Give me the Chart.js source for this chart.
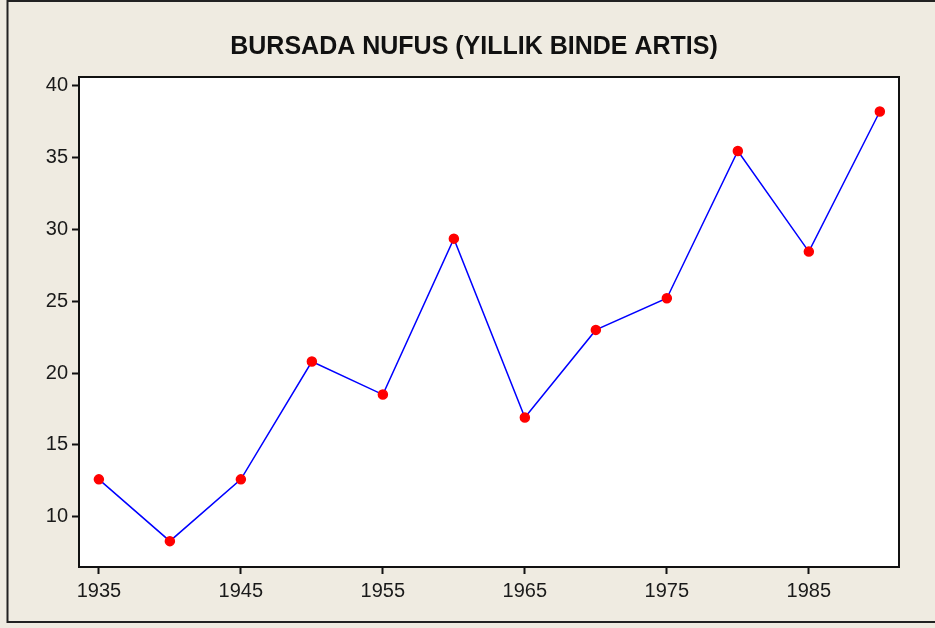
<!DOCTYPE html>
<html>
<head>
<meta charset="utf-8">
<script src="https://cdn.jsdelivr.net/npm/chart.js@4.4.1/dist/chart.umd.min.js"></script>
<style>
  html, body { margin: 0; padding: 0; background: #EFEBE1; }
  #wrap { width: 935px; height: 628px; }
</style>
</head>
<body>
<div id="wrap"><canvas id="chart"></canvas></div>
<script>
// yearly birth rate increase per thousand, Bursa
const years = [1935, 1940, 1945, 1950, 1955, 1960, 1965, 1970, 1975, 1980, 1985, 1990];
const values = [12.6, 8.3, 12.6, 20.8, 18.5, 29.35, 16.9, 23.0, 25.2, 35.45, 28.45, 38.2];
const xTicks = [1935, 1945, 1955, 1965, 1975, 1985];
const yTicks = [10, 15, 20, 25, 30, 35, 40];
const titleText = "BURSADA NUFUS (YILLIK BINDE ARTIS)";

const frame = {
    id: "frame",
    beforeDraw(chart) {
        const c = chart.ctx, a = chart.chartArea;
        c.save();
        c.fillStyle = "#EFEBE1";
        c.fillRect(0, 0, chart.width, chart.height);
        // outer border (left, top, bottom only)
        c.strokeStyle = "#222";
        c.lineWidth = 2;
        c.beginPath();
        c.moveTo(chart.width + 5, 1);
        c.lineTo(7.5, 1);
        c.lineTo(7.5, 622);
        c.lineTo(chart.width + 5, 622);
        c.stroke();
        c.fillStyle = "#fff";
        c.fillRect(a.left, a.top, a.right - a.left, a.bottom - a.top);
        // title
        c.fillStyle = "#111";
        c.font = "bold 25px 'Liberation Sans'";
        c.textAlign = "center";
        c.textBaseline = "middle";
        c.fillText(titleText, 474, 47);
        c.restore();
    },
    afterDatasetsDraw(chart) {
        const c = chart.ctx, a = chart.chartArea;
        c.save();
        c.strokeStyle = "#111";
        c.lineWidth = 2;
        c.strokeRect(a.left, a.top, a.right - a.left, a.bottom - a.top);
        c.restore();
    }
};

new Chart(document.getElementById("chart"), {
    type: "line",
    data: {
        datasets: [{
            data: years.map((y, i) => ({ x: y, y: values[i] })),
            borderColor: "#0000FF",
            borderWidth: 1.5,
            pointBackgroundColor: "#FF0000",
            pointBorderColor: "#FF0000",
            pointRadius: 4.5,
            tension: 0
        }]
    },
    options: {
        responsive: true,
        maintainAspectRatio: false,
        animation: false,
        layout: { padding: { left: 0, right: 36, top: 77, bottom: 0 } },
        plugins: {
            legend: { display: false },
            tooltip: { enabled: false },
            title: { display: false }
        },
        scales: {
            x: {
                type: "linear",
                min: 1933.6,
                max: 1991.35,
                afterBuildTicks: s => { s.ticks = xTicks.map(v => ({ value: v })); },
                afterFit: s => { s.height = 61; },
                grid: { drawOnChartArea: false, tickLength: 7, color: "#111", tickWidth: 2 },
                border: { display: false },
                ticks: {
                    color: "#1a1a1a",
                    padding: 5,
                    maxRotation: 0,
                    font: { family: "Liberation Sans", size: 20 },
                    callback: v => String(v)
                }
            },
            y: {
                min: 6.5,
                max: 40.6,
                afterBuildTicks: s => { s.ticks = yTicks.map(v => ({ value: v })); },
                afterFit: s => { s.width = 79; },
                grid: { drawOnChartArea: false, tickLength: 7, color: "#111", tickWidth: 2 },
                border: { display: false },
                ticks: {
                    color: "#1a1a1a",
                    padding: 4,
                    font: { family: "Liberation Sans", size: 20 }
                }
            }
        }
    },
    plugins: [frame]
});
</script>
</body>
</html>
